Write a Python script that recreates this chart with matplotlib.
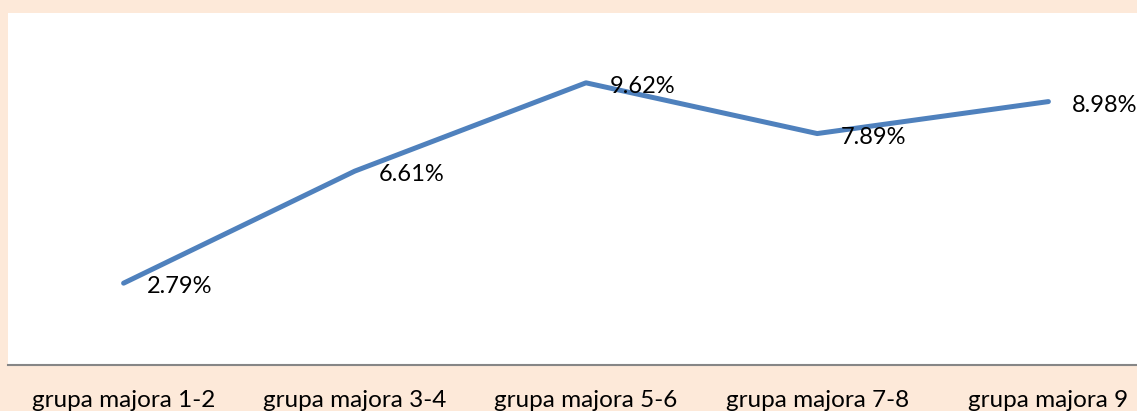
import matplotlib.pyplot as plt

# Share of each major group
categories = ['grupa majora 1-2', 'grupa majora 3-4', 'grupa majora 5-6',
              'grupa majora 7-8', 'grupa majora 9']
values = [2.79, 6.61, 9.62, 7.89, 8.98]

plt.rcParams['font.family'] = ['Lato', 'DejaVu Sans']

fig = plt.figure(figsize=(11.37, 4.11), dpi=100)
fig.patch.set_facecolor('#FDE9D9')
ax = fig.add_axes([8 / 1137, 46 / 411, 1156 / 1137, 352 / 411])
ax.set_facecolor('white')

x = list(range(len(categories)))
ax.plot(x, values, color='#4F81BD', linewidth=3.6, solid_capstyle='round',
        solid_joinstyle='round')

for xi, v in zip(x, values):
    ax.annotate(f'{v:.2f}%', (xi, v), xytext=(17, -2.5), textcoords='offset points',
                ha='left', va='center', fontsize=17, color='black')

ax.set_xlim(-0.5, 4.5)
ax.set_ylim(0, 12)
ax.set_xticks(x)
ax.set_xticklabels(categories, fontsize=17.5)
ax.tick_params(axis='x', length=0, pad=18)
ax.set_yticks([])

for side in ['top', 'left', 'right']:
    ax.spines[side].set_visible(False)
ax.spines['bottom'].set_color('#868686')
ax.spines['bottom'].set_linewidth(1.5)

fig.savefig('out.png', dpi=100, facecolor=fig.get_facecolor())
